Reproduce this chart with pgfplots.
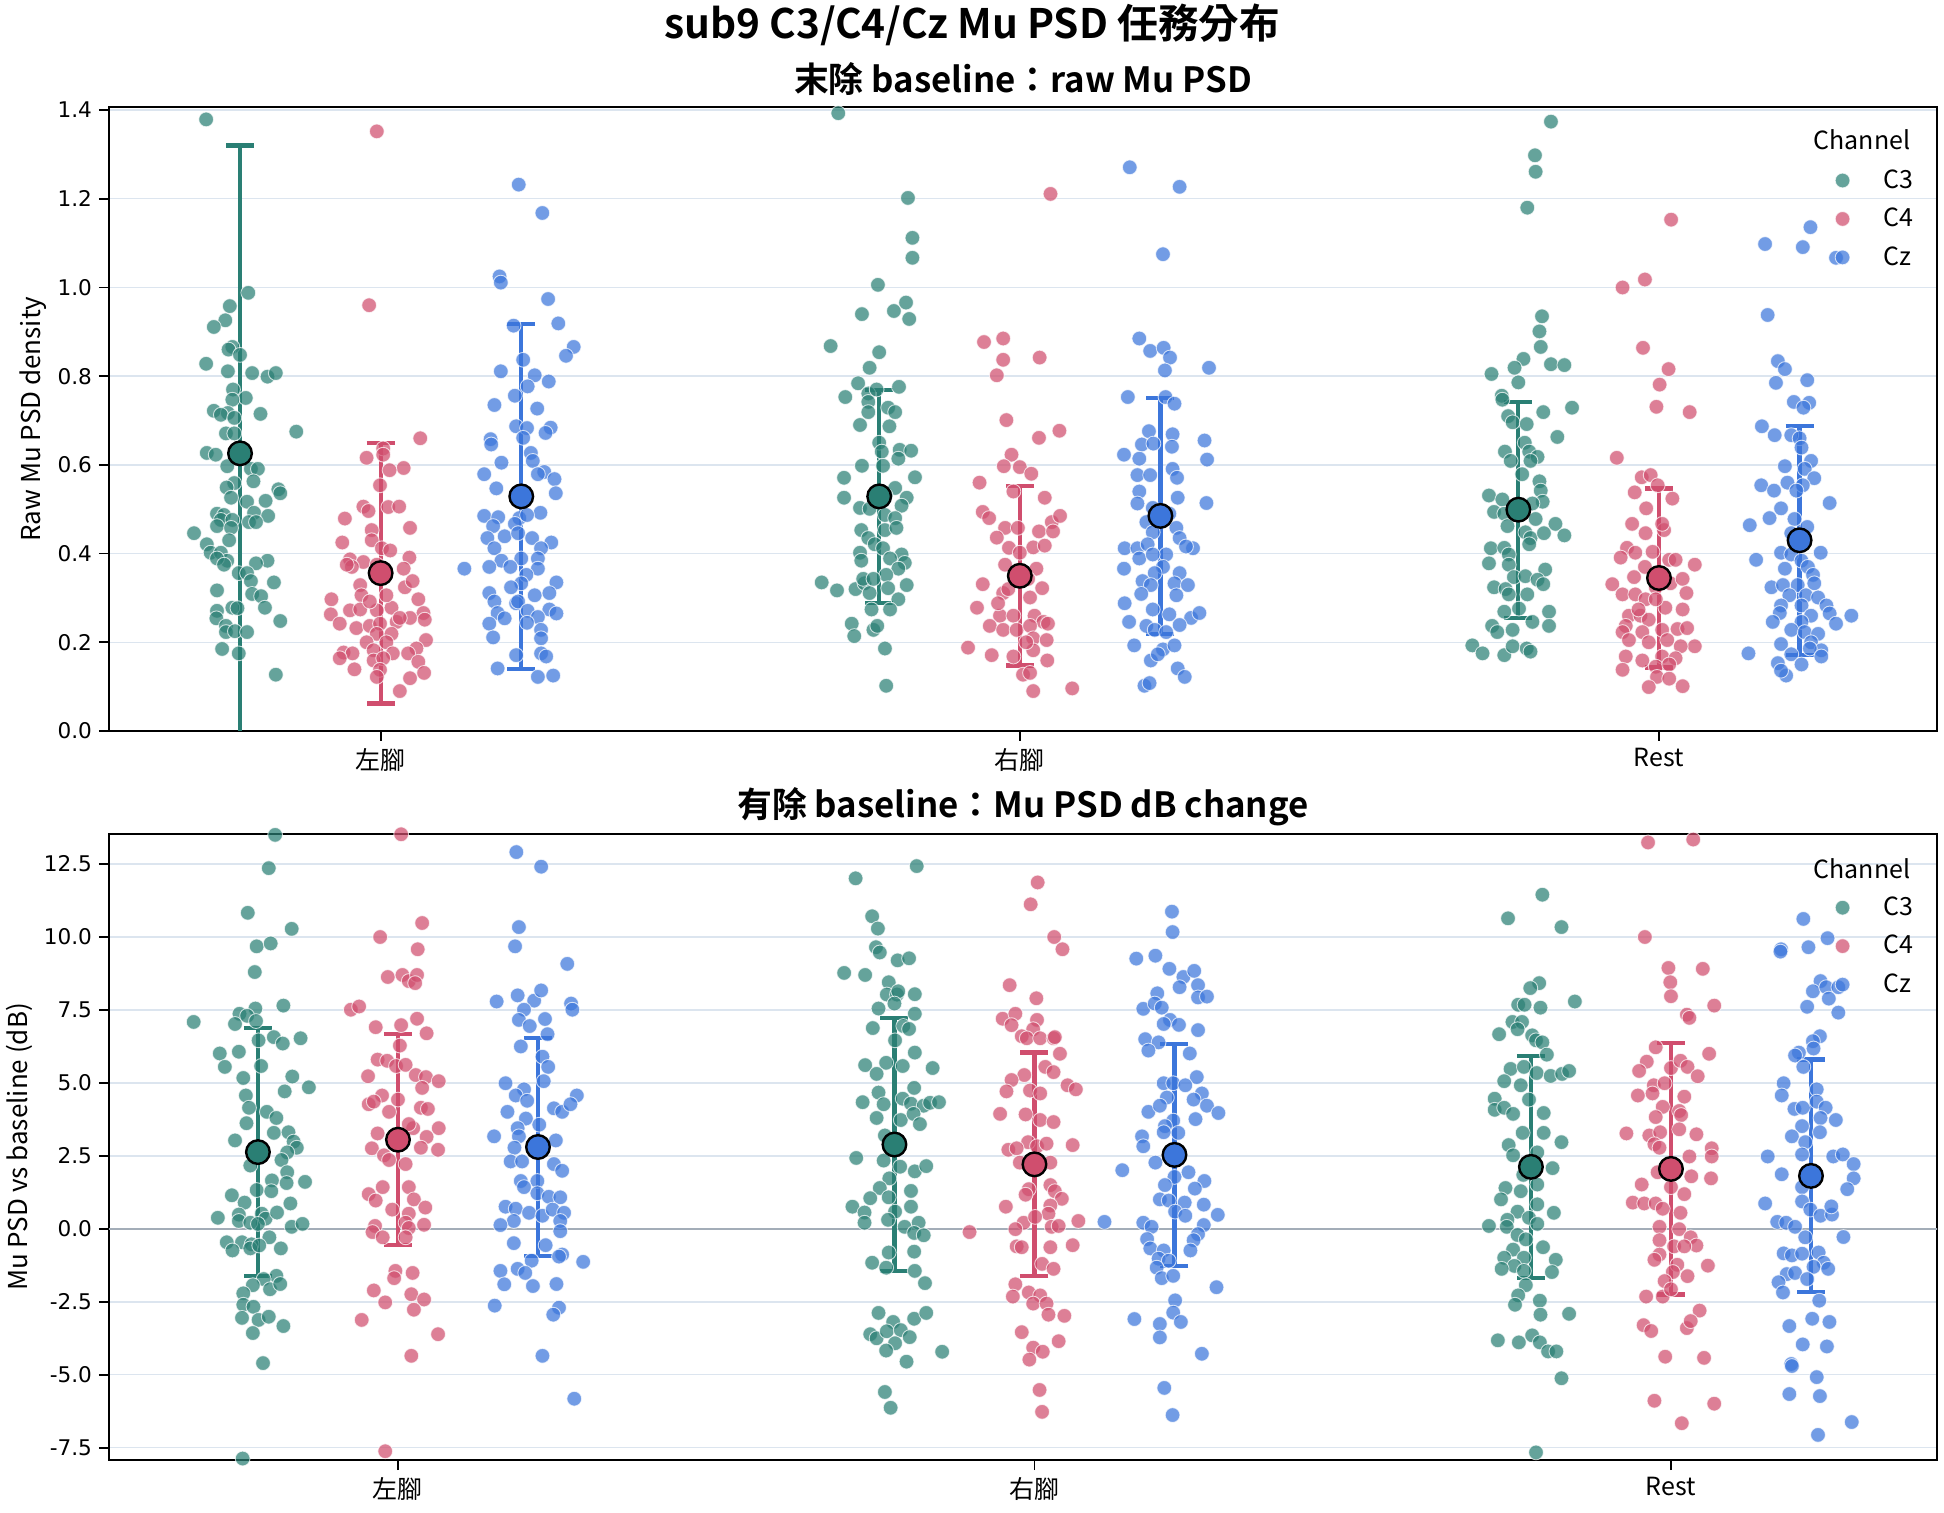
\documentclass[border=0pt]{standalone}
\usepackage{fontspec}
\setmainfont{Noto Sans CJK TC}[BoldFont={Noto Sans CJK TC Bold}]
\newfontfamily\tickfont{DejaVu Sans}
\usepackage{pgfplots}
\pgfplotsset{compat=1.18}
\definecolor{cthree}{HTML}{2A7F74}
\definecolor{cfour}{HTML}{D04E6E}
\definecolor{cz}{HTML}{3C76DB}
\definecolor{gridc}{HTML}{DCE5EF}
\definecolor{zeroc}{HTML}{A3ADB8}
\pgfplotsset{
  pts/.style={only marks, mark=*, mark size=3.7pt, mark options={fill=#1, draw=white, line width=0.45pt, opacity=0.72}},
  mean/.style={only marks, mark=*, mark size=5.9pt, mark options={fill=#1, draw=black, line width=1.2pt},
    /pgfplots/error bars/y dir=both, /pgfplots/error bars/y explicit,
    /pgfplots/error bars/error bar style={color=#1, line width=2.1pt},
    /pgfplots/error bars/error mark options={rotate=90, color=#1, line width=2.1pt, mark size=7pt}},
  common/.style={
    width=914pt, scale only axis, anchor=south west,
    axis line style={line width=1.1pt, black},
    tick align=outside, xtick pos=bottom, ytick pos=left,
    major tick length=5pt, major tick style={line width=0.9pt, black},
    ymajorgrids, major grid style={color=gridc, line width=0.7pt},
    xtick={0,1,2}, xticklabels={左腳,右腳,Rest},
    xticklabel style={font=\fontsize{12.5}{14}\selectfont},
    yticklabel style={font=\tickfont\fontsize{10.8}{12}\selectfont},
    ylabel style={font=\fontsize{13}{15}\selectfont, anchor=center, rotate=0},
    legend style={draw=none, fill=none, font=\fontsize{12.5}{14}\selectfont, row sep=4.4pt, anchor=north east, legend cell align=left,
      /tikz/every odd column/.append style={column sep=15pt}},
  },
}
\begin{document}
\begin{tikzpicture}
\path[use as bounding box] (0,0) rectangle (972pt,756pt);
% ---------------- TOP ----------------
\begin{axis}[common, at={(54.5pt,390.5pt)}, height=312pt,
  xmin=-0.425, xmax=2.435, ymin=0, ymax=1.407,
  ytick={0,0.2,0.4,0.6,0.8,1.0,1.2,1.4}, yticklabels={0.0,0.2,0.4,0.6,0.8,1.0,1.2,1.4},
  ylabel={Raw Mu PSD density}, ylabel style={at={(axis description cs:-0.0416,0.5)}},
  legend style={at={(0.993,0.913)}}]
\addplot[pts=cthree] coordinates {
(-0.273,1.379) (-0.207,0.988) (-0.236,0.958) (-0.243,0.926) (-0.261,0.911) (-0.232,0.866) (-0.238,0.860) (-0.220,0.848) (-0.273,0.828) (-0.239,0.811) (-0.201,0.807) (-0.177,0.799) (-0.164,0.807) (-0.231,0.770) (-0.211,0.751) (-0.232,0.747) (-0.261,0.722) (-0.239,0.717) (-0.250,0.713) (-0.229,0.706) (-0.188,0.715) (-0.132,0.675) (-0.242,0.671) (-0.229,0.671) (-0.272,0.627) (-0.258,0.623) (-0.240,0.597) (-0.203,0.591) (-0.192,0.591) (-0.199,0.563) (-0.229,0.559) (-0.241,0.549) (-0.160,0.545) (-0.157,0.536) (-0.234,0.526) (-0.209,0.517) (-0.180,0.519) (-0.256,0.490) (-0.245,0.487) (-0.198,0.492) (-0.176,0.485) (-0.250,0.476) (-0.232,0.476) (-0.206,0.471) (-0.256,0.462) (-0.234,0.458) (-0.195,0.471) (-0.292,0.446) (-0.237,0.430) (-0.272,0.421) (-0.266,0.402) (-0.250,0.402) (-0.240,0.384) (-0.256,0.389) (-0.245,0.375) (-0.177,0.384) (-0.195,0.378) (-0.222,0.356) (-0.209,0.356) (-0.203,0.338) (-0.167,0.335) (-0.256,0.317) (-0.201,0.309) (-0.187,0.304) (-0.232,0.278) (-0.224,0.277) (-0.256,0.271) (-0.181,0.278) (-0.257,0.254) (-0.242,0.237) (-0.157,0.248) (-0.242,0.223) (-0.228,0.225) (-0.209,0.223) (-0.248,0.185) (-0.222,0.175) (-0.164,0.127)
(0.716,1.393) (0.825,1.202) (0.832,1.112) (0.832,1.067) (0.778,1.006) (0.753,0.940) (0.803,0.947) (0.822,0.966) (0.827,0.929) (0.704,0.868) (0.780,0.854) (0.765,0.819) (0.747,0.784) (0.811,0.776) (0.727,0.753) (0.763,0.761) (0.776,0.770) (0.763,0.742) (0.794,0.729) (0.805,0.719) (0.763,0.719) (0.750,0.690) (0.796,0.687) (0.780,0.650) (0.784,0.630) (0.812,0.634) (0.830,0.632) (0.810,0.614) (0.753,0.598) (0.786,0.598) (0.725,0.571) (0.836,0.572) (0.805,0.548) (0.790,0.531) (0.725,0.526) (0.823,0.526) (0.815,0.508) (0.750,0.503) (0.765,0.501) (0.789,0.487) (0.805,0.480) (0.752,0.453) (0.789,0.453) (0.807,0.458) (0.763,0.435) (0.773,0.421) (0.750,0.402) (0.786,0.412) (0.815,0.398) (0.752,0.384) (0.797,0.389) (0.820,0.379) (0.810,0.366) (0.690,0.335) (0.714,0.317) (0.743,0.320) (0.757,0.333) (0.791,0.352) (0.823,0.329) (0.765,0.311) (0.794,0.322) (0.810,0.297) (0.768,0.274) (0.797,0.274) (0.737,0.242) (0.771,0.228) (0.777,0.237) (0.741,0.214) (0.789,0.186) (0.791,0.102) (0.755,0.343) (0.771,0.343)
(1.831,1.374) (1.806,1.298) (1.807,1.261) (1.794,1.180) (1.817,0.935) (1.813,0.901) (1.815,0.866) (1.788,0.839) (1.774,0.819) (1.831,0.827) (1.852,0.825) (1.738,0.805) (1.780,0.786) (1.754,0.756) (1.755,0.747) (1.819,0.719) (1.864,0.729) (1.764,0.710) (1.771,0.696) (1.793,0.692) (1.841,0.663) (1.790,0.650) (1.759,0.630) (1.797,0.630) (1.810,0.618) (1.768,0.609) (1.799,0.609) (1.786,0.579) (1.813,0.563) (1.815,0.542) (1.734,0.531) (1.755,0.522) (1.818,0.517) (1.802,0.513) (1.742,0.494) (1.758,0.490) (1.807,0.478) (1.838,0.467) (1.763,0.462) (1.791,0.448) (1.799,0.435) (1.820,0.446) (1.852,0.441) (1.737,0.412) (1.758,0.413) (1.765,0.398) (1.797,0.421) (1.734,0.378) (1.765,0.375) (1.773,0.347) (1.791,0.349) (1.822,0.364) (1.810,0.341) (1.819,0.331) (1.742,0.324) (1.760,0.320) (1.765,0.308) (1.794,0.308) (1.758,0.269) (1.828,0.269) (1.781,0.276) (1.739,0.237) (1.747,0.223) (1.771,0.228) (1.802,0.246) (1.828,0.237) (1.708,0.193) (1.724,0.175) (1.758,0.171) (1.771,0.191) (1.793,0.186) (1.799,0.179)
};
\addlegendentry{C3}
\addplot[pts=cfour] coordinates {
(-0.006,1.352) (-0.018,0.960) (0.062,0.660) (0.004,0.637) (-0.022,0.616) (0.004,0.623) (0.036,0.593) (0.014,0.588) (-0.001,0.554) (-0.027,0.506) (-0.019,0.496) (0.012,0.505) (0.029,0.506) (-0.056,0.479) (0.046,0.458) (-0.014,0.453) (-0.014,0.430) (-0.060,0.425) (0.002,0.412) (0.015,0.407) (-0.048,0.387) (-0.027,0.381) (-0.045,0.370) (-0.053,0.375) (0.045,0.391) (0.036,0.366) (-0.032,0.329) (-0.030,0.306) (-0.077,0.297) (0.038,0.324) (0.050,0.338) (0.059,0.297) (-0.078,0.263) (-0.048,0.272) (-0.032,0.274) (-0.006,0.272) (0.017,0.278) (0.067,0.266) (-0.064,0.242) (-0.038,0.232) (-0.017,0.237) (-0.001,0.242) (0.025,0.246) (0.046,0.255) (0.069,0.251) (-0.006,0.219) (0.017,0.219) (-0.022,0.200) (0.009,0.200) (0.071,0.205) (0.056,0.186) (-0.058,0.177) (-0.044,0.175) (-0.011,0.182) (0.019,0.175) (0.043,0.175) (-0.064,0.164) (-0.011,0.159) (0.004,0.164) (0.059,0.156) (-0.041,0.139) (-0.001,0.138) (-0.006,0.122) (0.046,0.119) (0.068,0.131) (0.030,0.090) (0.030,0.255) (-0.017,0.292) (0.009,0.306) (-0.006,0.375)
(1.048,1.211) (0.944,0.877) (0.974,0.885) (0.974,0.837) (1.031,0.842) (0.964,0.802) (0.979,0.701) (1.030,0.661) (1.062,0.677) (0.987,0.623) (0.975,0.597) (1.000,0.595) (1.018,0.580) (0.937,0.560) (0.990,0.540) (1.039,0.526) (0.942,0.494) (0.952,0.480) (0.977,0.458) (0.997,0.458) (1.030,0.450) (1.050,0.471) (1.052,0.450) (1.063,0.485) (0.964,0.436) (0.983,0.413) (1.021,0.414) (1.039,0.418) (0.977,0.375) (1.026,0.366) (0.942,0.331) (0.974,0.311) (0.982,0.320) (1.016,0.301) (1.035,0.322) (0.933,0.278) (0.969,0.260) (0.990,0.260) (1.023,0.260) (1.037,0.246) (1.044,0.242) (0.953,0.237) (0.974,0.228) (0.995,0.228) (1.016,0.237) (1.021,0.209) (1.042,0.205) (0.919,0.188) (0.956,0.171) (0.990,0.168) (1.021,0.182) (1.043,0.159) (1.005,0.127) (1.016,0.131) (1.021,0.090) (1.082,0.096) (1.013,0.343) (1.000,0.402) (0.966,0.288) (1.010,0.200)
(2.019,1.153) (1.943,1.000) (1.978,1.018) (1.975,0.864) (2.015,0.816) (2.001,0.781) (1.996,0.731) (2.048,0.719) (1.934,0.616) (1.973,0.572) (1.987,0.577) (1.998,0.554) (1.962,0.538) (2.021,0.524) (1.980,0.502) (1.958,0.467) (1.979,0.446) (2.008,0.453) (2.005,0.467) (1.950,0.413) (1.940,0.391) (1.963,0.402) (1.990,0.404) (2.016,0.386) (2.026,0.386) (2.056,0.375) (1.978,0.370) (1.961,0.347) (1.927,0.331) (1.943,0.308) (1.963,0.308) (1.995,0.324) (2.018,0.333) (2.037,0.343) (2.043,0.311) (1.979,0.297) (2.010,0.278) (2.037,0.274) (1.953,0.260) (1.971,0.260) (1.984,0.251) (1.948,0.237) (1.943,0.223) (1.974,0.223) (2.005,0.228) (2.029,0.230) (2.044,0.232) (1.953,0.205) (1.984,0.200) (2.013,0.205) (2.056,0.191) (2.034,0.191) (1.948,0.168) (1.974,0.159) (2.005,0.168) (2.026,0.164) (1.943,0.138) (1.995,0.145) (2.016,0.150) (1.997,0.122) (2.016,0.118) (1.984,0.099) (2.037,0.101) (1.968,0.274) (1.995,0.297)
};
\addlegendentry{C4}
\addplot[pts=cz] coordinates {
(0.216,1.232) (0.253,1.168) (0.186,1.025) (0.188,1.011) (0.262,0.974) (0.208,0.914) (0.278,0.919) (0.302,0.866) (0.290,0.846) (0.223,0.837) (0.188,0.811) (0.241,0.802) (0.263,0.788) (0.230,0.777) (0.210,0.756) (0.178,0.735) (0.245,0.727) (0.212,0.687) (0.229,0.683) (0.266,0.684) (0.258,0.672) (0.172,0.658) (0.173,0.646) (0.223,0.661) (0.189,0.605) (0.235,0.627) (0.238,0.609) (0.256,0.584) (0.162,0.579) (0.246,0.579) (0.272,0.568) (0.181,0.547) (0.274,0.536) (0.162,0.485) (0.184,0.482) (0.250,0.492) (0.217,0.480) (0.229,0.487) (0.210,0.467) (0.176,0.462) (0.194,0.439) (0.215,0.446) (0.167,0.435) (0.237,0.435) (0.178,0.412) (0.267,0.425) (0.251,0.412) (0.246,0.389) (0.189,0.384) (0.220,0.389) (0.203,0.370) (0.246,0.366) (0.170,0.370) (0.131,0.366) (0.228,0.352) (0.220,0.333) (0.275,0.335) (0.204,0.324) (0.241,0.306) (0.264,0.311) (0.170,0.311) (0.178,0.292) (0.212,0.288) (0.215,0.292) (0.183,0.266) (0.230,0.271) (0.264,0.274) (0.275,0.265) (0.194,0.254) (0.246,0.257) (0.170,0.242) (0.229,0.244) (0.251,0.228) (0.176,0.211) (0.251,0.209) (0.212,0.171) (0.251,0.175) (0.259,0.168) (0.183,0.141) (0.246,0.122) (0.270,0.125)
(1.208,1.408) (1.172,1.271) (1.250,1.227) (1.224,1.075) (1.187,0.885) (1.204,0.857) (1.225,0.864) (1.235,0.842) (1.227,0.813) (1.296,0.819) (1.169,0.753) (1.228,0.753) (1.242,0.738) (1.202,0.676) (1.239,0.669) (1.289,0.655) (1.238,0.641) (1.191,0.646) (1.209,0.648) (1.163,0.623) (1.187,0.614) (1.293,0.612) (1.239,0.591) (1.184,0.577) (1.204,0.577) (1.246,0.571) (1.187,0.540) (1.247,0.526) (1.292,0.514) (1.184,0.513) (1.208,0.503) (1.234,0.490) (1.198,0.471) (1.245,0.458) (1.208,0.448) (1.250,0.435) (1.164,0.412) (1.184,0.412) (1.200,0.421) (1.271,0.412) (1.260,0.416) (1.229,0.398) (1.187,0.389) (1.208,0.398) (1.163,0.366) (1.224,0.370) (1.211,0.356) (1.250,0.356) (1.192,0.338) (1.205,0.329) (1.242,0.333) (1.263,0.329) (1.190,0.309) (1.245,0.306) (1.164,0.288) (1.208,0.274) (1.234,0.263) (1.268,0.255) (1.281,0.266) (1.171,0.246) (1.198,0.237) (1.250,0.239) (1.211,0.228) (1.229,0.223) (1.179,0.193) (1.224,0.184) (1.242,0.193) (1.205,0.159) (1.216,0.173) (1.247,0.141) (1.258,0.122) (1.195,0.102) (1.203,0.108)
(2.166,1.098) (2.237,1.136) (2.225,1.091) (2.277,1.067) (2.170,0.938) (2.186,0.834) (2.197,0.816) (2.183,0.785) (2.232,0.791) (2.211,0.742) (2.235,0.740) (2.226,0.729) (2.161,0.687) (2.181,0.667) (2.207,0.667) (2.220,0.660) (2.223,0.639) (2.197,0.597) (2.238,0.609) (2.228,0.591) (2.243,0.570) (2.160,0.554) (2.180,0.542) (2.201,0.560) (2.225,0.554) (2.215,0.542) (2.267,0.514) (2.191,0.502) (2.173,0.480) (2.212,0.478) (2.142,0.464) (2.232,0.460) (2.207,0.446) (2.253,0.402) (2.152,0.386) (2.191,0.402) (2.207,0.398) (2.223,0.384) (2.233,0.370) (2.197,0.366) (2.241,0.352) (2.176,0.324) (2.194,0.329) (2.217,0.329) (2.243,0.333) (2.204,0.306) (2.230,0.306) (2.249,0.301) (2.191,0.283) (2.223,0.283) (2.262,0.283) (2.189,0.266) (2.238,0.260) (2.267,0.265) (2.178,0.246) (2.223,0.246) (2.277,0.242) (2.301,0.260) (2.207,0.228) (2.228,0.223) (2.249,0.219) (2.191,0.196) (2.238,0.200) (2.254,0.182) (2.140,0.175) (2.207,0.173) (2.236,0.186) (2.254,0.168) (2.186,0.153) (2.223,0.150) (2.199,0.125) (2.191,0.136)
};
\addlegendentry{Cz}
\addplot[mean=cthree, forget plot] coordinates {(-0.22,0.626) +- (0,0.694) (0.78,0.529) +- (0,0.2405) (1.78,0.499) +- (0,0.2435)};
\addplot[mean=cfour, forget plot] coordinates {(0,0.356) +- (0,0.294) (1,0.350) +- (0,0.2025) (2,0.345) +- (0,0.202)};
\addplot[mean=cz, forget plot] coordinates {(0.22,0.529) +- (0,0.3885) (1.22,0.485) +- (0,0.2655) (2.22,0.430) +- (0,0.258)};
\node[font=\fontsize{12.5}{14}\selectfont] at (axis description cs:0.959,0.947) {Channel};
\end{axis}
% ---------------- BOTTOM ----------------
\begin{axis}[common, at={(54.5pt,26pt)}, height=313pt,
  xmin=-0.454, xmax=2.418, ymin=-7.92, ymax=13.53,
  ytick={-7.5,-5,-2.5,0,2.5,5,7.5,10,12.5}, yticklabels={-7.5,-5.0,-2.5,0.0,2.5,5.0,7.5,10.0,12.5},
  ylabel={Mu PSD vs baseline (dB)}, ylabel style={at={(axis description cs:-0.049,0.5)}},
  legend style={at={(0.993,0.913)}}]
\draw[color=zeroc, line width=1.2pt] (axis cs:-1,0) -- (axis cs:3,0);
\addplot[pts=cthree] coordinates {
(-0.193,13.50) (-0.203,12.36) (-0.236,10.83) (-0.167,10.28) (-0.222,9.68) (-0.200,9.78) (-0.225,8.80) (-0.321,7.09) (-0.249,7.37) (-0.224,7.55) (-0.180,7.65) (-0.256,7.02) (-0.237,7.30) (-0.223,7.12) (-0.219,6.46) (-0.195,6.57) (-0.181,6.35) (-0.153,6.53) (-0.280,6.01) (-0.250,6.07) (-0.272,5.55) (-0.215,5.58) (-0.243,5.17) (-0.166,5.22) (-0.140,4.85) (-0.239,4.57) (-0.178,4.71) (-0.234,4.15) (-0.206,4.01) (-0.191,3.80) (-0.238,3.62) (-0.256,3.03) (-0.195,3.29) (-0.172,3.31) (-0.164,2.99) (-0.159,2.78) (-0.174,2.62) (-0.232,2.17) (-0.183,2.36) (-0.198,1.66) (-0.174,1.94) (-0.175,1.57) (-0.146,1.61) (-0.222,1.33) (-0.199,1.29) (-0.261,1.15) (-0.241,0.90) (-0.169,0.87) (-0.283,0.38) (-0.250,0.49) (-0.250,0.27) (-0.232,0.21) (-0.214,0.52) (-0.208,0.35) (-0.190,0.56) (-0.220,0.17) (-0.167,0.07) (-0.150,0.17) (-0.269,-0.46) (-0.245,-0.46) (-0.230,-0.53) (-0.202,-0.29) (-0.260,-0.74) (-0.232,-0.67) (-0.218,-0.57) (-0.184,-0.67) (-0.191,-1.61) (-0.211,-1.72) (-0.228,-1.93) (-0.243,-2.21) (-0.201,-2.07) (-0.185,-1.89) (-0.243,-2.60) (-0.227,-2.67) (-0.245,-3.05) (-0.219,-3.12) (-0.203,-3.01) (-0.180,-3.33) (-0.228,-3.57) (-0.212,-4.60) (-0.244,-7.87)
(0.719,12.01) (0.815,12.43) (0.745,10.71) (0.754,10.29) (0.751,9.65) (0.757,9.47) (0.785,9.20) (0.803,9.27) (0.701,8.77) (0.734,8.70) (0.771,8.45) (0.768,8.03) (0.784,8.03) (0.812,8.04) (0.786,8.14) (0.755,7.55) (0.780,7.72) (0.812,7.37) (0.746,6.88) (0.794,6.95) (0.803,6.85) (0.781,6.46) (0.812,6.04) (0.734,5.61) (0.767,5.69) (0.793,5.58) (0.840,5.51) (0.752,5.31) (0.811,4.83) (0.755,4.67) (0.730,4.34) (0.763,4.27) (0.793,4.46) (0.806,4.29) (0.826,4.22) (0.836,4.32) (0.850,4.34) (0.752,3.80) (0.790,3.73) (0.810,3.94) (0.820,3.59) (0.765,3.20) (0.720,2.43) (0.763,2.34) (0.789,2.13) (0.812,1.97) (0.830,2.15) (0.772,1.73) (0.757,1.40) (0.806,1.30) (0.742,1.05) (0.771,1.08) (0.714,0.76) (0.733,0.56) (0.781,0.59) (0.806,0.76) (0.733,0.21) (0.770,0.31) (0.796,0.07) (0.818,0.21) (0.811,-0.14) (0.826,-0.22) (0.771,-0.81) (0.811,-0.78) (0.745,-1.16) (0.767,-1.33) (0.812,-1.44) (0.828,-1.86) (0.755,-2.88) (0.811,-3.08) (0.830,-2.88) (0.778,-3.19) (0.742,-3.61) (0.752,-3.75) (0.768,-3.51) (0.790,-3.47) (0.804,-3.71) (0.781,-3.92) (0.767,-4.17) (0.855,-4.21) (0.799,-4.55) (0.765,-5.59) (0.774,-6.13)
(1.798,11.45) (1.744,10.64) (1.828,10.34) (1.793,8.42) (1.779,8.25) (1.849,7.79) (1.760,7.68) (1.770,7.68) (1.795,7.58) (1.751,7.09) (1.766,7.09) (1.759,6.84) (1.730,6.67) (1.782,6.63) (1.788,6.46) (1.798,6.39) (1.805,5.97) (1.748,5.48) (1.769,5.55) (1.789,5.34) (1.811,5.24) (1.829,5.31) (1.840,5.41) (1.738,5.06) (1.764,4.92) (1.777,4.43) (1.723,4.46) (1.723,4.08) (1.738,4.15) (1.752,3.94) (1.800,3.97) (1.767,3.29) (1.800,3.29) (1.828,2.97) (1.745,2.87) (1.752,2.52) (1.790,2.62) (1.814,2.08) (1.768,1.85) (1.740,1.40) (1.733,1.01) (1.764,1.29) (1.790,1.52) (1.790,0.84) (1.816,0.55) (1.759,0.59) (1.743,0.31) (1.777,0.38) (1.790,0.17) (1.714,0.10) (1.742,0.07) (1.759,-0.21) (1.772,-0.36) (1.799,-0.63) (1.752,-0.71) (1.738,-0.99) (1.769,-0.99) (1.819,-1.06) (1.754,-1.27) (1.734,-1.37) (1.769,-1.44) (1.813,-1.48) (1.772,-1.93) (1.760,-2.28) (1.755,-2.60) (1.794,-2.46) (1.795,-2.94) (1.840,-2.91) (1.728,-3.82) (1.761,-3.89) (1.782,-3.65) (1.794,-3.89) (1.807,-4.20) (1.820,-4.20) (1.828,-5.12) (1.788,-7.66)
};
\addlegendentry{C3}
\addplot[pts=cfour] coordinates {
(0.005,13.52) (0.038,10.48) (-0.028,10.00) (0.031,9.58) (-0.016,8.63) (0.007,8.70) (0.017,8.49) (0.030,8.70) (0.027,8.42) (-0.074,7.51) (-0.061,7.62) (0.030,7.20) (-0.035,6.91) (0.005,6.98) (0.045,6.70) (0.003,6.28) (-0.032,5.80) (-0.017,5.76) (-0.003,5.58) (0.012,5.62) (-0.047,5.23) (0.028,5.27) (0.044,5.20) (0.064,5.06) (0.038,4.83) (-0.025,4.57) (-0.046,4.27) (-0.038,4.36) (0.000,4.43) (-0.014,4.01) (0.036,4.15) (0.047,4.11) (0.024,3.45) (0.064,3.45) (-0.032,3.27) (0.017,3.59) (0.045,3.15) (-0.041,2.76) (0.036,2.78) (0.063,2.71) (-0.022,2.52) (-0.014,2.36) (0.012,2.22) (-0.046,1.19) (-0.024,1.43) (-0.035,0.97) (0.017,1.43) (0.025,1.01) (0.043,0.73) (-0.009,0.66) (0.017,0.52) (-0.036,0.10) (-0.040,-0.11) (-0.024,-0.29) (0.012,0.21) (0.017,0.03) (0.041,0.14) (0.012,-0.29) (-0.004,-1.44) (0.023,-1.51) (-0.006,-1.69) (-0.038,-2.11) (0.021,-2.24) (-0.020,-2.52) (0.041,-2.42) (0.025,-2.77) (-0.057,-3.12) (0.063,-3.61) (0.021,-4.35) (-0.020,-7.62)
(1.005,11.87) (0.994,11.12) (1.031,10.00) (1.044,9.58) (0.961,8.35) (1.003,7.90) (0.950,7.20) (0.970,7.37) (0.964,6.98) (1.004,7.16) (0.998,6.84) (0.980,6.60) (0.988,6.53) (1.009,6.53) (1.030,6.53) (1.032,6.57) (1.040,6.00) (1.017,5.55) (1.030,5.37) (0.984,5.27) (0.964,5.10) (0.956,4.71) (0.993,4.74) (1.052,4.92) (1.065,4.78) (1.009,4.64) (0.946,3.94) (0.986,3.92) (1.009,3.73) (1.030,3.66) (0.990,2.97) (1.004,2.83) (1.019,2.92) (0.959,2.71) (0.972,2.76) (1.060,2.87) (0.977,2.27) (1.025,2.27) (1.025,1.50) (0.991,1.36) (1.032,1.29) (0.986,1.17) (1.043,1.03) (0.955,0.76) (1.025,0.80) (1.022,0.52) (0.983,0.21) (1.001,0.41) (1.069,0.27) (1.027,0.07) (1.038,0.10) (0.898,-0.11) (0.970,-0.01) (0.972,-0.60) (0.980,-0.63) (1.025,-0.63) (1.060,-0.56) (1.012,-1.20) (1.030,-1.37) (0.970,-1.90) (0.991,-2.18) (0.966,-2.32) (1.009,-2.28) (0.998,-2.56) (1.019,-2.56) (1.022,-2.94) (1.047,-2.98) (0.980,-3.54) (1.038,-3.85) (0.998,-4.07) (1.013,-4.21) (0.992,-4.48) (1.008,-5.52) (1.012,-6.27)
(1.964,13.24) (2.035,13.34) (1.959,10.00) (1.996,8.94) (2.050,8.91) (1.999,8.45) (2.000,7.97) (2.025,7.34) (2.029,7.23) (2.068,7.65) (1.976,6.22) (2.060,6.00) (1.962,5.73) (1.950,5.41) (2.000,5.51) (2.015,5.76) (2.026,5.55) (2.042,5.23) (1.973,4.92) (1.990,4.99) (1.948,4.57) (1.971,4.64) (2.021,4.53) (1.987,4.18) (2.013,4.04) (2.016,3.90) (1.976,3.83) (1.930,3.27) (1.966,3.20) (1.983,3.31) (2.013,3.41) (2.040,3.24) (1.974,2.90) (1.982,2.78) (2.064,2.76) (2.064,2.48) (2.029,2.48) (1.979,1.94) (2.032,1.80) (2.063,1.73) (1.954,1.52) (2.000,1.43) (1.940,0.90) (1.958,0.87) (1.976,0.87) (1.987,0.69) (2.021,1.19) (2.015,0.55) (1.982,0.07) (2.013,-0.01) (1.982,-0.39) (2.031,-0.29) (2.040,-0.57) (2.005,-0.60) (2.021,-0.60) (1.982,-0.88) (1.974,-1.06) (2.010,-1.23) (2.026,-1.62) (2.058,-1.26) (2.003,-1.48) (1.990,-1.79) (1.961,-2.32) (1.987,-2.32) (2.000,-2.07) (2.045,-2.80) (1.957,-3.30) (1.969,-3.50) (2.025,-3.40) (2.031,-3.16) (1.991,-4.38) (2.052,-4.42) (1.974,-5.89) (2.068,-5.99) (2.017,-6.66)
};
\addlegendentry{C4}
\addplot[pts=cz] coordinates {
(0.186,12.91) (0.225,12.41) (0.190,10.34) (0.184,9.68) (0.266,9.08) (0.155,7.79) (0.188,8.00) (0.214,7.82) (0.225,8.17) (0.272,7.72) (0.274,7.51) (0.198,7.51) (0.190,7.16) (0.231,7.19) (0.207,6.95) (0.235,6.67) (0.193,6.25) (0.227,5.90) (0.236,5.55) (0.169,4.99) (0.198,4.78) (0.229,5.06) (0.185,4.57) (0.203,4.39) (0.281,4.57) (0.245,4.13) (0.258,4.01) (0.271,4.27) (0.172,4.01) (0.201,3.78) (0.188,3.45) (0.222,3.57) (0.151,3.17) (0.190,3.17) (0.248,3.03) (0.183,2.78) (0.177,2.31) (0.195,2.31) (0.245,2.22) (0.258,1.99) (0.193,1.64) (0.219,1.64) (0.198,1.43) (0.219,1.22) (0.237,1.10) (0.255,1.08) (0.169,0.76) (0.185,0.69) (0.206,0.55) (0.227,0.45) (0.243,0.66) (0.261,0.55) (0.182,0.27) (0.255,0.27) (0.161,0.13) (0.255,-0.08) (0.182,-0.49) (0.232,-0.56) (0.258,-0.88) (0.291,-1.13) (0.253,-0.95) (0.210,-1.09) (0.188,-1.37) (0.161,-1.44) (0.200,-1.51) (0.167,-1.90) (0.212,-1.96) (0.249,-1.89) (0.152,-2.63) (0.253,-2.70) (0.244,-2.94) (0.227,-4.35) (0.277,-5.82)
(1.110,0.24) (1.216,10.87) (1.217,10.17) (1.160,9.26) (1.190,9.36) (1.212,8.91) (1.234,8.63) (1.251,8.84) (1.257,8.35) (1.228,8.28) (1.193,8.07) (1.257,7.93) (1.271,7.96) (1.171,7.54) (1.189,7.72) (1.200,7.58) (1.213,7.16) (1.227,6.99) (1.203,7.02) (1.257,6.81) (1.174,6.50) (1.195,6.39) (1.179,6.11) (1.244,6.01) (1.255,5.20) (1.203,4.99) (1.218,4.99) (1.237,4.92) (1.263,4.64) (1.208,4.50) (1.250,4.43) (1.271,4.22) (1.289,3.97) (1.179,4.01) (1.197,4.22) (1.253,3.76) (1.218,3.71) (1.205,3.52) (1.226,3.29) (1.203,3.31) (1.169,3.17) (1.171,2.83) (1.190,2.27) (1.242,1.94) (1.138,2.01) (1.220,1.78) (1.267,1.64) (1.205,1.50) (1.252,1.38) (1.197,1.01) (1.211,0.97) (1.236,0.90) (1.266,0.83) (1.221,0.59) (1.237,0.45) (1.288,0.48) (1.171,0.21) (1.184,0.07) (1.266,0.13) (1.257,-0.18) (1.177,-0.35) (1.250,-0.39) (1.182,-0.67) (1.203,-0.74) (1.245,-0.74) (1.195,-1.02) (1.211,-1.09) (1.192,-1.33) (1.200,-1.69) (1.218,-1.61) (1.286,-2.00) (1.221,-2.45) (1.218,-2.87) (1.157,-3.09) (1.197,-3.26) (1.230,-3.19) (1.197,-3.72) (1.263,-4.28) (1.204,-5.45) (1.217,-6.38)
(2.208,10.62) (2.173,9.58) (2.172,9.50) (2.216,9.65) (2.246,9.96) (2.235,8.49) (2.223,8.14) (2.244,8.28) (2.263,8.28) (2.248,7.89) (2.214,7.61) (2.263,7.41) (2.234,6.60) (2.223,6.43) (2.224,6.18) (2.201,6.04) (2.195,5.94) (2.208,5.55) (2.177,4.99) (2.174,4.57) (2.229,4.78) (2.194,4.11) (2.207,4.15) (2.229,4.36) (2.243,4.15) (2.259,3.73) (2.206,3.52) (2.235,3.80) (2.234,3.31) (2.190,3.17) (2.211,2.97) (2.152,2.48) (2.206,2.55) (2.255,2.48) (2.270,2.55) (2.287,2.22) (2.174,1.87) (2.287,1.73) (2.206,1.43) (2.277,1.36) (2.148,0.87) (2.206,0.94) (2.219,0.66) (2.235,0.45) (2.253,0.49) (2.252,0.77) (2.167,0.24) (2.181,0.21) (2.195,0.07) (2.211,-0.29) (2.271,-0.28) (2.177,-0.84) (2.190,-0.91) (2.206,-0.85) (2.232,-0.81) (2.240,-1.16) (2.224,-1.30) (2.247,-1.37) (2.182,-1.55) (2.195,-1.51) (2.214,-1.72) (2.169,-1.83) (2.176,-2.18) (2.233,-2.46) (2.222,-3.08) (2.186,-3.33) (2.249,-3.19) (2.207,-3.96) (2.245,-4.03) (2.189,-4.63) (2.190,-4.70) (2.229,-5.08) (2.186,-5.66) (2.234,-5.73) (2.231,-7.06) (2.284,-6.62)
};
\addlegendentry{Cz}
\addplot[mean=cthree, forget plot] coordinates {(-0.22,2.63) +- (0,4.245) (0.78,2.89) +- (0,4.33) (1.78,2.125) +- (0,3.805)};
\addplot[mean=cfour, forget plot] coordinates {(0,3.055) +- (0,3.615) (1,2.21) +- (0,3.83) (2,2.055) +- (0,4.305)};
\addplot[mean=cz, forget plot] coordinates {(0.22,2.805) +- (0,3.725) (1.22,2.535) +- (0,3.805) (2.22,1.815) +- (0,3.985)};
\node[font=\fontsize{12.5}{14}\selectfont] at (axis description cs:0.959,0.944) {Channel};
\end{axis}
\node[font=\bfseries\fontsize{20.3}{24}\selectfont] at (486pt,743.5pt) {sub9 C3/C4/Cz Mu PSD 任務分布};
\node[font=\bfseries\fontsize{17.4}{20}\selectfont] at (511.5pt,716.5pt) {末除 baseline：raw Mu PSD};
\node[font=\bfseries\fontsize{17.4}{20}\selectfont] at (511.5pt,352.5pt) {有除 baseline：Mu PSD dB change};
\end{tikzpicture}
\end{document}
